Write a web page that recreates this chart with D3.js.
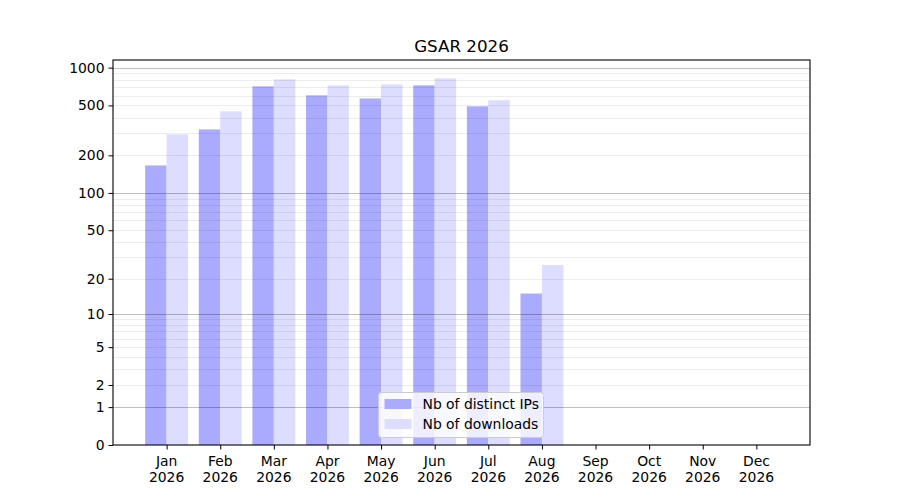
<!DOCTYPE html>
<html>
<head>
<meta charset="utf-8">
<script src="https://cdn.jsdelivr.net/npm/d3@7"></script>
<style>
  body { margin: 0; background: #fff; }
  text { font-family: "DejaVu Sans", sans-serif; fill: #000; }
</style>
</head>
<body>
<svg id="chart" width="900" height="500"></svg>
<script>
// months and values
const months = ["Jan", "Feb", "Mar", "Apr", "May", "Jun", "Jul", "Aug", "Sep", "Oct", "Nov", "Dec"];
const year = "2026";
const distinctIPs = [166, 322, 710, 602, 568, 723, 492, 15, 0, 0, 0, 0];
const downloads = [294, 449, 807, 723, 736, 822, 550, 26, 0, 0, 0, 0];
const yTicks = [0, 1, 2, 5, 10, 20, 50, 100, 200, 500, 1000];
const seriesNames = ["Nb of distinct IPs", "Nb of downloads"];
const seriesColors = ["#aaaaff", "#ddddff"];

const svg = d3.select("#chart");
const plotL = 113, plotR = 810, plotT = 60, plotB = 445;
const fs = "13.9px";

// x: month index 1..12, bar width 0.4
const x = d3.scaleLinear().domain([0, 13]).range([plotL, plotR]);
const barW = 0.4;

// y: log(1 + v) scale, 5% headroom in transformed space
const maxV = d3.max(downloads.concat(distinctIPs));
const yTop = Math.pow(10, Math.log10(1 + maxV) * 1.05) - 1;
const y = d3.scaleSymlog().constant(1).domain([0, yTop]).range([plotB, plotT]);

// bars
const g = svg.append("g");
g.selectAll("rect.ip")
    .data(distinctIPs)
    .enter().append("rect")
    .attr("x", (d, i) => x(i + 1 - barW))
    .attr("width", x(barW) - x(0))
    .attr("y", d => y(d))
    .attr("height", d => y(0) - y(d))
    .attr("fill", seriesColors[0]);

g.selectAll("rect.dl")
    .data(downloads)
    .enter().append("rect")
    .attr("x", (d, i) => x(i + 1))
    .attr("width", x(barW) - x(0))
    .attr("y", d => y(d))
    .attr("height", d => y(0) - y(d))
    .attr("fill", seriesColors[1]);

// grid lines drawn over the bars
let minor = [];
[1, 10, 100].forEach(b => { for (let k = 2; k <= 9; k++) minor.push(b * k); });
svg.append("g").selectAll("line")
    .data(minor)
    .enter().append("line")
    .attr("x1", plotL).attr("x2", plotR)
    .attr("y1", d => Math.round(y(d)) + 0.5).attr("y2", d => Math.round(y(d)) + 0.5)
    .attr("stroke", "#000").attr("stroke-opacity", 0.07);

svg.append("g").selectAll("line")
    .data([1, 10, 100, 1000])
    .enter().append("line")
    .attr("x1", plotL).attr("x2", plotR)
    .attr("y1", d => Math.round(y(d)) + 0.5).attr("y2", d => Math.round(y(d)) + 0.5)
    .attr("stroke", "#000").attr("stroke-opacity", 0.25);

// axes
const yAxis = d3.axisLeft(y).tickValues(yTicks).tickFormat(d3.format("d")).tickSize(4.5).tickPadding(4);
const ya = svg.append("g").attr("transform", `translate(${plotL},0)`).call(yAxis);
ya.select(".domain").remove();
ya.selectAll("text").style("font-size", fs);
ya.selectAll("line").attr("stroke", "#000");

const xAxis = d3.axisBottom(x).tickValues(d3.range(1, 13)).tickFormat("").tickSize(4.5);
const xa = svg.append("g").attr("transform", `translate(0,${plotB})`).call(xAxis);
xa.select(".domain").remove();
xa.selectAll("line").attr("stroke", "#000");

const xl = svg.append("g").selectAll("text")
    .data(months)
    .enter().append("text")
    .attr("x", (d, i) => x(i + 1))
    .attr("y", 466)
    .attr("text-anchor", "middle")
    .style("font-size", fs);
xl.append("tspan").attr("x", (d, i) => x(i + 1)).text(d => d);
xl.append("tspan").attr("x", (d, i) => x(i + 1)).attr("dy", 16).text(year);

// frame
svg.append("rect")
    .attr("x", plotL).attr("y", plotT)
    .attr("width", plotR - plotL).attr("height", plotB - plotT)
    .attr("fill", "none").attr("stroke", "#000").attr("stroke-width", 1.1);

// title
svg.append("text")
    .attr("x", (plotL + plotR) / 2).attr("y", 52)
    .attr("text-anchor", "middle")
    .style("font-size", "16.7px")
    .text("GSAR 2026");

// legend
const lg = svg.append("g").attr("transform", "translate(378.5,392.5)");
lg.append("rect")
    .attr("width", 165).attr("height", 45).attr("rx", 3)
    .attr("fill", "#fff").attr("fill-opacity", 0.8)
    .attr("stroke", "#cccccc");
seriesNames.forEach((name, i) => {
    lg.append("rect")
        .attr("x", 6).attr("y", 6.5 + i * 20)
        .attr("width", 27).attr("height", 10)
        .attr("fill", seriesColors[i]);
    lg.append("text")
        .attr("x", 44).attr("y", 16.5 + i * 20)
        .style("font-size", fs)
        .text(name);
});
</script>
</body>
</html>
